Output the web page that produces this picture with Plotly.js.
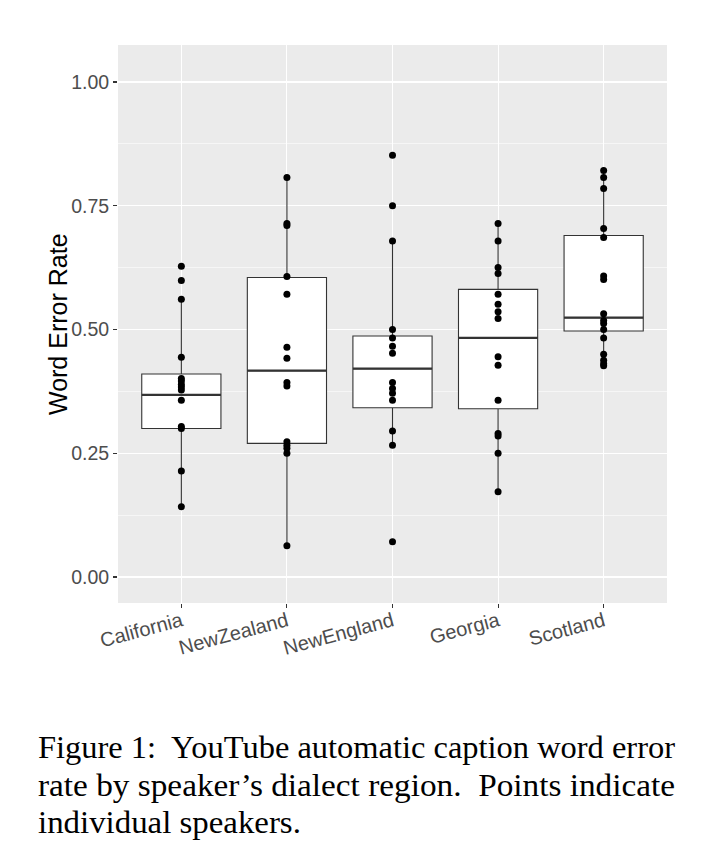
<!DOCTYPE html>
<html>
<head>
<meta charset="utf-8">
<script src="https://cdn.plot.ly/plotly-3.0.1.min.js"></script>
<style>
  html, body { margin: 0; padding: 0; background: #ffffff; }
  #wrap { position: relative; width: 720px; height: 857px; overflow: hidden; }
  #chart { position: absolute; left: 0; top: 0; width: 720px; height: 857px; }
  .cap { position: absolute; left: 38px; white-space: nowrap; transform-origin: 0 0;
    font-family: "Liberation Serif", "DejaVu Serif", serif; font-size: 32px; color: #000; line-height: 38px; }
</style>
</head>
<body>
<div id="wrap">
  <div id="chart"></div>
  <div class="cap" id="cap1" style="top:728px">Figure 1:&nbsp; YouTube automatic caption word error</div>
  <div class="cap" id="cap2" style="top:766px">rate by speaker’s dialect region.&nbsp; Points indicate</div>
  <div class="cap" id="cap3" style="top:803px">individual speakers.</div>
</div>
<script>
// ---- data ----
var categories = ['California', 'NewZealand', 'NewEngland', 'Georgia', 'Scotland'];

var californiaWER = [0.628, 0.599, 0.561, 0.444, 0.401, 0.396, 0.389, 0.384, 0.378, 0.357, 0.304, 0.300, 0.214, 0.142];
var newZealandWER = [0.807, 0.714, 0.710, 0.607, 0.571, 0.464, 0.442, 0.393, 0.386, 0.273, 0.266, 0.260, 0.250, 0.063];
var newEnglandWER = [0.852, 0.750, 0.679, 0.500, 0.483, 0.466, 0.452, 0.393, 0.381, 0.371, 0.357, 0.295, 0.266, 0.071];
var georgiaWER    = [0.714, 0.679, 0.625, 0.613, 0.571, 0.551, 0.536, 0.522, 0.445, 0.428, 0.357, 0.290, 0.285, 0.250, 0.172];
var scotlandWER   = [0.821, 0.807, 0.785, 0.704, 0.686, 0.608, 0.601, 0.532, 0.518, 0.512, 0.500, 0.483, 0.450, 0.438, 0.431, 0.427];

var boxQ1       = [0.300, 0.270, 0.342, 0.340, 0.497];
var boxMedian   = [0.368, 0.417, 0.421, 0.483, 0.524];
var boxQ3       = [0.410, 0.605, 0.487, 0.581, 0.690];
var whiskerLow  = [0.142, 0.063, 0.266, 0.172, 0.427];
var whiskerHigh = [0.561, 0.807, 0.679, 0.714, 0.821];

var yTickVals = [0, 0.25, 0.5, 0.75, 1.0];
var yTickText = ['0.00', '0.25', '0.50', '0.75', '1.00'];

// ---- build traces ----
var seriesByRegion = [californiaWER, newZealandWER, newEnglandWER, georgiaWER, scotlandWER];
var ptX = [], ptY = [];
seriesByRegion.forEach(function (vals, i) {
  vals.forEach(function (v) { ptX.push(categories[i]); ptY.push(v); });
});

var boxTrace = {
  type: 'box',
  x: categories,
  q1: boxQ1, median: boxMedian, q3: boxQ3,
  lowerfence: whiskerLow, upperfence: whiskerHigh,
  width: 0.75,
  whiskerwidth: 0,
  fillcolor: '#ffffff',
  line: { color: '#333333', width: 1.1 },
  boxpoints: false,
  hoverinfo: 'skip',
  showlegend: false
};

var medianTrace = {
  type: 'box',
  x: categories,
  q1: boxMedian, median: boxMedian, q3: boxMedian,
  lowerfence: boxMedian, upperfence: boxMedian,
  width: 0.75,
  whiskerwidth: 0,
  fillcolor: 'rgba(0,0,0,0)',
  line: { color: '#333333', width: 2.4 },
  boxpoints: false,
  hoverinfo: 'skip',
  showlegend: false
};

var pointTrace = {
  type: 'scatter',
  mode: 'markers',
  x: ptX, y: ptY,
  marker: { color: '#000000', size: 7 },
  hoverinfo: 'skip',
  showlegend: false
};

var layout = {
  width: 720, height: 857,
  margin: { l: 118, r: 53, t: 45, b: 254 },
  paper_bgcolor: '#ffffff',
  plot_bgcolor: '#EBEBEB',
  boxmode: 'overlay',
  font: { family: 'Liberation Sans, Arial, sans-serif' },
  xaxis: {
    type: 'category',
    categoryorder: 'array', categoryarray: categories,
    range: [-0.6, 4.6],
    showgrid: true, gridcolor: '#ffffff', gridwidth: 1.1,
    zeroline: false, showline: false,
    ticks: 'outside', ticklen: 4, tickwidth: 1.1, tickcolor: '#333333',
    tickangle: -15,
    ticklabelstandoff: -6,
    tickfont: { size: 20, color: '#4D4D4D', family: 'Liberation Sans, Arial, sans-serif' }
  },
  yaxis: {
    range: [-0.0525, 1.0747],
    tickvals: yTickVals, ticktext: yTickText,
    showgrid: true, gridcolor: '#ffffff', gridwidth: 1.1,
    minor: { dtick: 0.125, tick0: 0, showgrid: true, gridcolor: '#ffffff', gridwidth: 0.55, ticks: '' },
    zeroline: false, showline: false,
    ticks: 'outside', ticklen: 4, tickwidth: 1.1, tickcolor: '#333333',
    tickfont: { size: 19.5, color: '#4D4D4D', family: 'Liberation Sans, Arial, sans-serif' }
  },
  annotations: [{
    text: 'Word Error Rate', textangle: -90, showarrow: false,
    xref: 'paper', yref: 'paper', x: (58 - 118) / 549, y: 0.5,
    xanchor: 'center', yanchor: 'middle',
    font: { size: 25, color: '#000000', family: 'Liberation Sans, Arial, sans-serif' }
  }]
};

Plotly.newPlot('chart', [boxTrace, medianTrace, pointTrace], layout, { staticPlot: true, displayModeBar: false });

// fit caption lines to the justified text block width
(function () {
  var W = 637;
  var c1 = document.getElementById('cap1'), c2 = document.getElementById('cap2'), c3 = document.getElementById('cap3');
  var s1 = W / c1.getBoundingClientRect().width;
  var s2 = W / c2.getBoundingClientRect().width;
  c1.style.transform = 'scaleX(' + s1 + ')';
  c2.style.transform = 'scaleX(' + s2 + ')';
  c3.style.transform = 'scaleX(' + ((s1 + s2) / 2) + ')';
})();
</script>
</body>
</html>
